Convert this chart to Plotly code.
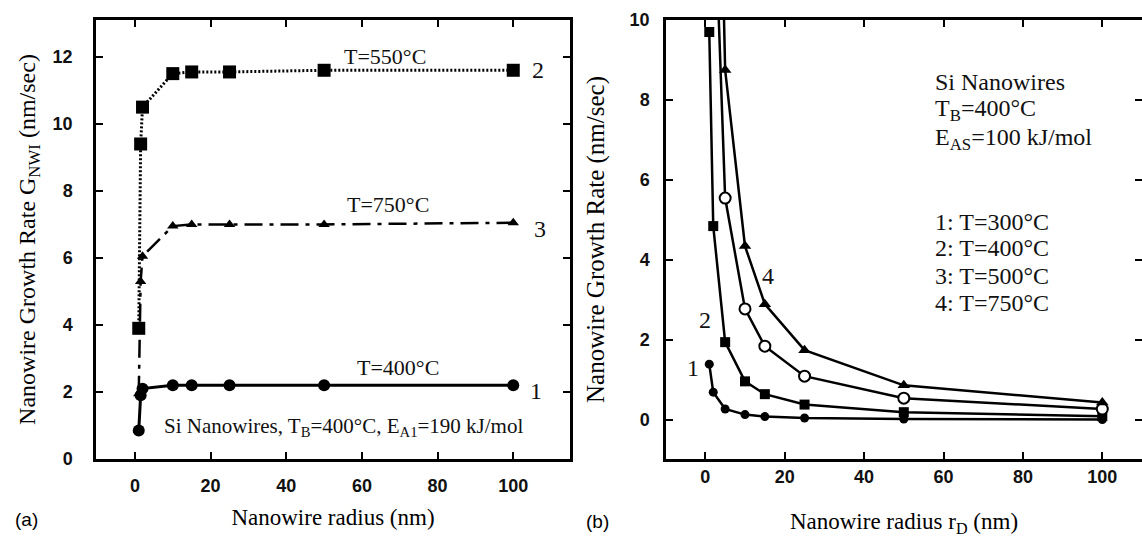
import plotly.graph_objects as go

# ---------------- Panel (a) data ----------------
radius_a = [1, 1.5, 2, 10, 15, 25, 50, 100]
rate_a_400 = [0.85, 1.9, 2.1, 2.2, 2.2, 2.2, 2.2, 2.2]        # curve 1, T=400°C
rate_a_550 = [3.9, 9.4, 10.5, 11.5, 11.55, 11.55, 11.6, 11.6]  # curve 2, T=550°C
rate_a_750 = [1.95, 5.3, 6.05, 6.95, 7.0, 7.0, 7.0, 7.05]      # curve 3, T=750°C

# ---------------- Panel (b) data ----------------
radius_b = [1, 2, 5, 10, 15, 25, 50, 100]
rate_b_300 = [1.4, 0.7, 0.28, 0.14, 0.09, 0.055, 0.03, 0.015]
rate_b_400 = [9.7, 4.85, 1.95, 0.97, 0.65, 0.39, 0.2, 0.1]
rate_b_500 = [27.7, 13.9, 5.55, 2.78, 1.85, 1.1, 0.55, 0.28]
rate_b_750 = [43.7, 21.9, 8.75, 4.35, 2.9, 1.75, 0.87, 0.44]

xticks_a = [0, 20, 40, 60, 80, 100]
yticks_a = [0, 2, 4, 6, 8, 10, 12]
xticks_b = [0, 20, 40, 60, 80, 100]
yticks_b = [0, 2, 4, 6, 8, 10]

BLACK = "#000000"
SERIF = "Liberation Serif, Times New Roman, serif"
SANS = "Liberation Sans, Arial, sans-serif"

fig = go.Figure()

# Panel (a)
fig.add_trace(go.Scatter(x=radius_a, y=rate_a_550, xaxis="x", yaxis="y", mode="lines+markers",
                         line=dict(color=BLACK, width=3, dash="2px,2px"),
                         marker=dict(symbol="square", size=13, color=BLACK)))
fig.add_trace(go.Scatter(x=radius_a, y=rate_a_750, xaxis="x", yaxis="y", mode="lines+markers",
                         line=dict(color=BLACK, width=2.5, dash="18px,7px,4px,7px"),
                         marker=dict(symbol="triangle-up", size=10, color=BLACK)))
fig.add_trace(go.Scatter(x=radius_a, y=rate_a_400, xaxis="x", yaxis="y", mode="lines+markers",
                         line=dict(color=BLACK, width=3),
                         marker=dict(symbol="circle", size=12, color=BLACK)))

# Panel (b)
fig.add_trace(go.Scatter(x=radius_b, y=rate_b_300, xaxis="x2", yaxis="y2", mode="lines+markers",
                         line=dict(color=BLACK, width=2.5),
                         marker=dict(symbol="circle", size=9, color=BLACK)))
fig.add_trace(go.Scatter(x=radius_b, y=rate_b_400, xaxis="x2", yaxis="y2", mode="lines+markers",
                         line=dict(color=BLACK, width=2.5),
                         marker=dict(symbol="square", size=10, color=BLACK)))
fig.add_trace(go.Scatter(x=radius_b, y=rate_b_500, xaxis="x2", yaxis="y2", mode="lines+markers",
                         line=dict(color=BLACK, width=2.5),
                         marker=dict(symbol="circle", size=11, color="white",
                                     line=dict(color=BLACK, width=2))))
fig.add_trace(go.Scatter(x=radius_b, y=rate_b_750, xaxis="x2", yaxis="y2", mode="lines+markers",
                         line=dict(color=BLACK, width=2.5),
                         marker=dict(symbol="triangle-up", size=11, color=BLACK)))

W, H = 1142, 537
ytop = 1 - 20 / H
ybot = 1 - 459 / H

axis_common = dict(showline=True, linewidth=2.5, linecolor=BLACK, mirror="ticks",
                   ticks="inside", ticklen=7, tickwidth=2, tickcolor=BLACK,
                   showgrid=False, zeroline=False, automargin=False,
                   tickfont=dict(family=SANS, size=18, color="#111", weight="bold"))

fig.update_layout(
    template="none",
    width=W, height=H,
    margin=dict(l=0, r=0, t=0, b=0, autoexpand=False),
    paper_bgcolor="white", plot_bgcolor="white",
    showlegend=False,
    xaxis=dict(axis_common, domain=[96 / W, 570 / W], range=[-10.3, 115], tickvals=xticks_a,
               anchor="y", ticklabelstandoff=9,
               title=dict(text="Nanowire radius (nm)",
                          font=dict(family=SERIF, size=23, color=BLACK), standoff=14)),
    yaxis=dict(axis_common, domain=[ybot, ytop], range=[0, 13.1], tickvals=yticks_a,
               anchor="x", ticklabelstandoff=17,
               title=dict(text="Nanowire Growth Rate G<sub>NWI</sub> (nm/sec)",
                          font=dict(family=SERIF, size=24, color=BLACK), standoff=11)),
    xaxis2=dict(axis_common, domain=[666 / W, 1.0], range=[-9.9, 110], tickvals=xticks_b,
                anchor="y2", ticklabelstandoff=0,
                title=dict(text="Nanowire radius r<sub>D</sub> (nm)",
                           font=dict(family=SERIF, size=23, color=BLACK), standoff=33)),
    yaxis2=dict(axis_common, domain=[ybot, ytop], range=[-0.97, 10], tickvals=yticks_b,
                anchor="x2", ticklabelstandoff=10,
                title=dict(text="Nanowire Growth Rate (nm/sec)",
                           font=dict(family=SERIF, size=25, color=BLACK), standoff=18)),
)

ann_a = dict(family=SERIF, size=22, color="#111")
ann_b = dict(family=SERIF, size=24, color="#111")
annotations = [
    dict(x=66, y=12.0, xref="x", yref="y", text="T=550°C", font=ann_a),
    dict(x=67, y=7.58, xref="x", yref="y", text="T=750°C", font=ann_a),
    dict(x=69.6, y=2.72, xref="x", yref="y", text="T=400°C", font=ann_a),
    dict(x=104.5, y=11.6, xref="x", yref="y", text="2", xanchor="left", font=ann_b),
    dict(x=105.0, y=6.85, xref="x", yref="y", text="3", xanchor="left", font=ann_b),
    dict(x=104.0, y=2.03, xref="x", yref="y", text="1", xanchor="left", font=ann_b),
    dict(x=55.2, y=0.95, xref="x", yref="y",
         text="Si Nanowires, T<sub>B</sub>=400°C, E<sub>A1</sub>=190 kJ/mol",
         font=dict(family=SERIF, size=21, color="#111")),
    dict(x=57.3, y=8.45, xref="x2", yref="y2", text="Si Nanowires", xanchor="left", font=ann_b),
    dict(x=57.3, y=7.75, xref="x2", yref="y2", text="T<sub>B</sub>=400°C", xanchor="left", font=ann_b),
    dict(x=57.3, y=7.03, xref="x2", yref="y2", text="E<sub>AS</sub>=100 kJ/mol", xanchor="left", font=ann_b),
    dict(x=57.3, y=4.95, xref="x2", yref="y2", text="1: T=300°C", xanchor="left", font=ann_b),
    dict(x=57.3, y=4.3, xref="x2", yref="y2", text="2: T=400°C", xanchor="left", font=ann_b),
    dict(x=57.3, y=3.6, xref="x2", yref="y2", text="3: T=500°C", xanchor="left", font=ann_b),
    dict(x=57.3, y=2.93, xref="x2", yref="y2", text="4: T=750°C", xanchor="left", font=ann_b),
    dict(x=15.7, y=3.6, xref="x2", yref="y2", text="4", font=ann_b),
    dict(x=-0.2, y=2.5, xref="x2", yref="y2", text="2", font=ann_b),
    dict(x=-3.2, y=1.3, xref="x2", yref="y2", text="1", font=ann_b),
    dict(x=26 / W, y=1 - 519 / H, xref="paper", yref="paper", text="(a)",
         xanchor="center", yanchor="middle", font=dict(family=SANS, size=19, color=BLACK)),
    dict(x=597 / W, y=1 - 521 / H, xref="paper", yref="paper", text="(b)",
         xanchor="center", yanchor="middle", font=dict(family=SANS, size=19, color=BLACK)),
]
for a in annotations:
    a["showarrow"] = False
fig.update_layout(annotations=annotations)

fig.write_html("out.html", config={"displayModeBar": False},
               post_script="document.body.style.margin='0';")
